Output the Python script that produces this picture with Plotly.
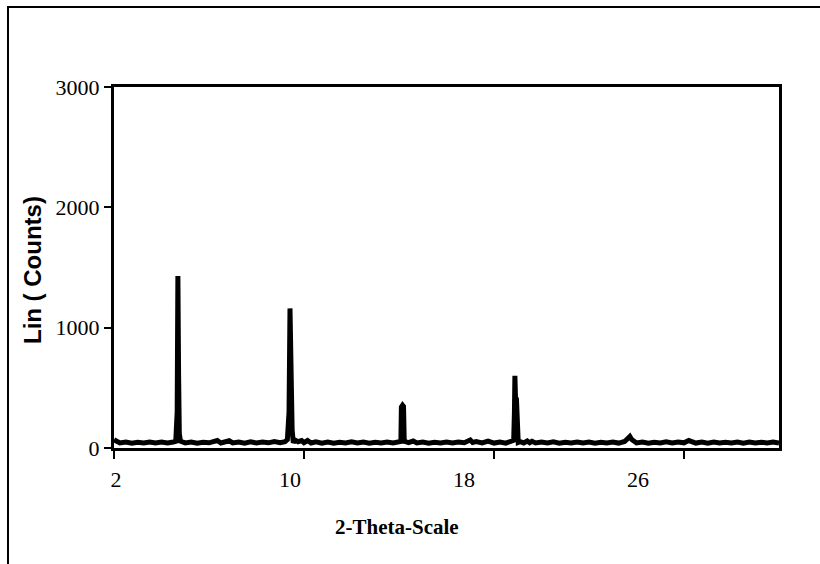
import plotly.graph_objects as go

# 2-theta positions (degrees) and intensities (counts)
two_theta = [
    2.00, 2.10, 2.25, 2.50, 2.75, 3.00, 3.25, 3.50, 3.75, 4.00, 4.25, 4.50, 4.60,
    4.66, 4.69, 4.72, 4.75, 4.80, 5.00, 5.25, 5.50, 5.75, 6.00, 6.25, 6.35, 6.50,
    6.75, 6.85, 7.00, 7.25, 7.50, 7.75, 8.00, 8.25, 8.50, 8.75, 9.00, 9.20, 9.30,
    9.37, 9.41, 9.44, 9.47, 9.50, 9.55, 9.62, 9.75, 9.90, 10.00, 10.15, 10.30,
    10.50, 10.75, 11.00, 11.25, 11.50, 11.75, 12.00, 12.25, 12.50, 12.75, 13.00,
    13.25, 13.50, 13.75, 14.00, 14.08, 14.10, 14.15, 14.19, 14.22, 14.40, 14.60,
    14.75, 15.00, 15.25, 15.50, 15.75, 16.00, 16.25, 16.50, 16.75, 17.00, 17.10,
    17.25, 17.50, 17.75, 18.00, 18.25, 18.50, 18.75, 18.83, 18.86, 18.88, 18.91,
    18.95, 18.98, 19.02, 19.10, 19.25, 19.40, 19.50, 19.60, 19.75, 20.00, 20.25,
    20.50, 20.75, 21.00, 21.25, 21.50, 21.75, 22.00, 22.25, 22.50, 22.75, 23.00,
    23.25, 23.50, 23.65, 23.72, 23.80, 24.00, 24.25, 24.50, 24.75, 25.00, 25.25,
    25.50, 25.75, 26.00, 26.20, 26.35, 26.50, 26.75, 27.00, 27.25, 27.50, 27.75,
    28.00, 28.25, 28.50, 28.75, 29.00, 29.25, 29.50, 29.75, 30.00,
]
counts = [
    68, 60, 42, 50, 40, 48, 42, 50, 41, 49, 42, 50, 56,
    300, 1430, 600, 120, 56, 42, 50, 40, 48, 43, 52, 62, 42,
    50, 60, 42, 50, 40, 51, 42, 50, 43, 54, 44, 52, 70,
    300, 1160, 760, 500, 150, 44, 66, 52, 62, 44, 62, 42,
    52, 40, 50, 40, 48, 42, 51, 41, 49, 40, 48,
    42, 50, 41, 49, 54, 340, 355, 345, 56, 44, 58,
    42, 50, 40, 48, 42, 50, 41, 50, 44, 66, 46,
    54, 42, 58, 41, 50, 40, 51, 64, 300, 600, 380,
    385, 150, 46, 52, 42, 58, 44, 56, 42, 50, 41,
    51, 40, 48, 42, 50, 41, 49, 40, 48, 42, 50,
    41, 54, 78, 96, 70, 42, 50, 40, 48, 42, 51,
    41, 50, 43, 62, 50, 41, 49, 40, 50, 41, 48,
    42, 50, 40, 49, 41, 48, 42, 49, 42,
]

y_ticks = [0, 1000, 2000, 3000]
x_ticks = [2, 10, 18, 26]
x_tick_labels = ["2", "10", "18", "26"]

fig = go.Figure()
fig.add_trace(go.Scatter(
    x=two_theta, y=counts, mode="lines",
    line=dict(color="black", width=5),
    showlegend=False, hoverinfo="skip",
))
# trace to anchor the tick-label axis
fig.add_trace(go.Scatter(
    x=x_ticks, y=[None] * len(x_ticks), xaxis="x2", mode="markers",
    showlegend=False, hoverinfo="skip",
))

serif = "Liberation Serif, Times New Roman, serif"
sans = "Liberation Sans, Arial, sans-serif"

fig.update_layout(
    width=820, height=564,
    margin=dict(l=114, r=41, t=87, b=116),
    paper_bgcolor="white", plot_bgcolor="white",
    xaxis=dict(
        range=[2, 30], tickvals=x_ticks, showticklabels=False,
        ticks="outside", ticklen=8, tickwidth=2, tickcolor="black",
        showline=True, linewidth=3, linecolor="black", mirror=True,
        showgrid=False, zeroline=False,
    ),
    xaxis2=dict(
        overlaying="x", side="bottom", anchor="y",
        range=[1.908, 32.48], tickvals=x_ticks, ticktext=x_tick_labels,
        ticks="outside", ticklen=12, tickcolor="rgba(0,0,0,0)",
        tickfont=dict(family=serif, size=22, color="black"),
        showline=False, showgrid=False, zeroline=False,
    ),
    yaxis=dict(
        range=[0, 3000], tickvals=y_ticks,
        ticks="outside", ticklen=7, tickwidth=2, tickcolor="black",
        tickfont=dict(family=serif, size=22, color="black"),
        showline=True, linewidth=3, linecolor="black", mirror=True,
        showgrid=False, zeroline=False,
    ),
    annotations=[
        dict(text="<b>2-Theta-Scale</b>", xref="paper", yref="paper",
             x=0.4256, y=-0.2188, xanchor="center", yanchor="middle",
             showarrow=False, font=dict(family=serif, size=21, color="black")),
        dict(text="<b>Lin ( Counts)</b>", xref="paper", yref="paper",
             x=-0.1233, y=0.493, xanchor="center", yanchor="middle",
             textangle=-90, showarrow=False,
             font=dict(family=sans, size=24, color="black")),
    ],
    shapes=[
        dict(type="rect", xref="paper", yref="paper",
             x0=-0.1594, y0=-0.40, x1=1.12, y1=1.2216,
             line=dict(color="black", width=2), layer="below"),
    ],
)

fig.write_html("out.html")
